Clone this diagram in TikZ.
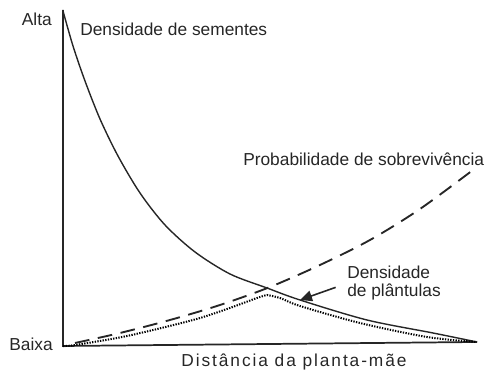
\documentclass[tikz,border=0pt]{standalone}
\usepackage{fontspec}
\setmainfont{Liberation Sans}
\newfontfamily\spacedfont[LetterSpace=11]{Liberation Sans}
\usepackage{tikz}
\usetikzlibrary{arrows.meta}
\begin{document}
\begin{tikzpicture}[x=0.75pt,y=0.75pt,
		lbl/.style={font=\fontsize{13}{13.5}\selectfont, text=black!85, inner sep=0pt},
		curve/.style={black!85, line width=1.05pt}]
			\useasboundingbox (0,0) rectangle (497,373);
			\coordinate (O) at(63,27);
			\coordinate (x) at(477,31);
			\coordinate (y) at(63,363);
			\coordinate (tip) at(300,73);
			\draw[black!85, line width=1.3pt] (y)--(O)--(x);
			% densidade de sementes
			\draw[curve] plot[smooth] coordinates {(63,362) (73,327) (85,292) (100,254) (118,217) (140,180) (165,148) (195,121) (230,99) (267,85) (300,73) (367,53) (433,40) (x)};
			% probabilidade de sobrevivencia
			\draw[black!85, line width=1.4pt, dash pattern=on 11pt off 6.5pt] plot[smooth] coordinates {(75,30) (120,40) (170,53) (220,68) (270,86) (320,108) (370,133) (420,164) (477,206)};
			% densidade de plantulas
			\draw[black, line width=1.5pt, dash pattern=on 1pt off 1pt] plot[smooth] coordinates {(O) (75,28) (127,37) (193,53) (227,64) (257,75) (267,78)}
				-- plot[smooth] coordinates {(267,78) (280,75) (300,67) (360,50) (427,36) (x)};
			\node[lbl, anchor=east] (alta) at(52,354) {Alta};
			\node[lbl, anchor=east] (baixa) at(53,29) {Baixa};
			\node[lbl, anchor=base west] (seeds) at(80,337) {Densidade de sementes};
			\node[lbl, anchor=base west] (surv) at(243,207) {Probabilidade de sobrevivência};
			\node[lbl, anchor=north west, align=left] (seedl) at(347,107) {Densidade\\de plântulas};
			\node[lbl, anchor=base] (dist) at(294,6) {\spacedfont Distância da planta-mãe};
			\draw[curve, line width=1.2pt, shorten <=9pt, -{Triangle[length=9pt,width=8pt]}] (seedl.west)--(tip);
		\end{tikzpicture}
\end{document}
